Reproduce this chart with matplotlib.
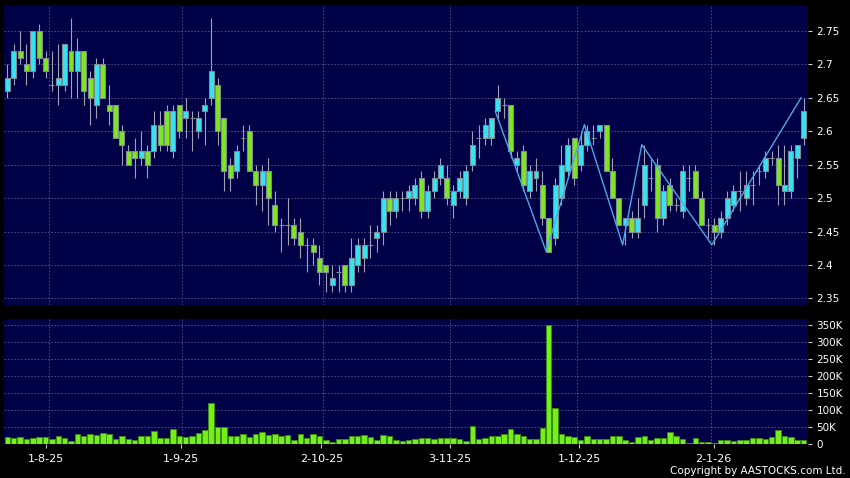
import matplotlib
matplotlib.use("Agg")
import matplotlib.pyplot as plt
import numpy as np

# ______________________________________________________________________________
#
# data (one entry per trading day)
# ______________________________________________________________________________
opens = [2.66, 2.68, 2.72, 2.70, 2.69, 2.75, 2.71, 2.67, 2.67, 2.67,
         2.72, 2.69, 2.72, 2.68, 2.64, 2.70, 2.64, 2.64, 2.60, 2.57,
         2.57, 2.56, 2.57, 2.57, 2.61, 2.63, 2.57, 2.64, 2.62, 2.62,
         2.60, 2.63, 2.65, 2.67, 2.62, 2.55, 2.54, 2.59, 2.60, 2.54,
         2.52, 2.54, 2.49, 2.46, 2.46, 2.46, 2.45, 2.43, 2.43, 2.41,
         2.40, 2.37, 2.39, 2.40, 2.37, 2.40, 2.41, 2.43, 2.44, 2.45,
         2.50, 2.48, 2.50, 2.50, 2.50, 2.53, 2.48, 2.51, 2.53, 2.53,
         2.49, 2.51, 2.50, 2.55, 2.59, 2.59, 2.59, 2.63, 2.64, 2.64,
         2.55, 2.57, 2.51, 2.53, 2.52, 2.47, 2.44, 2.50, 2.54, 2.59,
         2.55, 2.58, 2.59, 2.60, 2.61, 2.54, 2.50, 2.46, 2.47, 2.45,
         2.49, 2.53, 2.55, 2.47, 2.52, 2.49, 2.48, 2.53, 2.54, 2.50,
         2.46, 2.46, 2.45, 2.47, 2.49, 2.51, 2.50, 2.52, 2.54, 2.54,
         2.56, 2.56, 2.51, 2.51, 2.56, 2.59]
highs = [2.70, 2.73, 2.75, 2.73, 2.75, 2.76, 2.72, 2.72, 2.73, 2.73,
         2.77, 2.74, 2.72, 2.69, 2.71, 2.71, 2.67, 2.64, 2.61, 2.58,
         2.59, 2.60, 2.58, 2.63, 2.63, 2.64, 2.64, 2.64, 2.65, 2.63,
         2.63, 2.65, 2.77, 2.68, 2.62, 2.56, 2.58, 2.61, 2.61, 2.55,
         2.55, 2.56, 2.51, 2.47, 2.50, 2.47, 2.47, 2.44, 2.44, 2.43,
         2.40, 2.40, 2.40, 2.40, 2.44, 2.44, 2.44, 2.46, 2.46, 2.51,
         2.51, 2.51, 2.51, 2.52, 2.53, 2.54, 2.52, 2.54, 2.56, 2.55,
         2.52, 2.54, 2.55, 2.60, 2.61, 2.62, 2.62, 2.67, 2.65, 2.64,
         2.57, 2.58, 2.55, 2.56, 2.54, 2.47, 2.53, 2.58, 2.59, 2.59,
         2.60, 2.61, 2.61, 2.61, 2.61, 2.56, 2.50, 2.47, 2.48, 2.50,
         2.58, 2.56, 2.56, 2.52, 2.53, 2.50, 2.55, 2.55, 2.55, 2.51,
         2.47, 2.47, 2.48, 2.51, 2.52, 2.54, 2.54, 2.54, 2.55, 2.57,
         2.57, 2.58, 2.58, 2.58, 2.58, 2.65]
lows = [2.65, 2.67, 2.70, 2.67, 2.68, 2.70, 2.68, 2.66, 2.64, 2.66,
        2.65, 2.65, 2.64, 2.61, 2.62, 2.65, 2.61, 2.59, 2.55, 2.55,
        2.53, 2.55, 2.53, 2.56, 2.57, 2.57, 2.56, 2.59, 2.59, 2.57,
        2.59, 2.58, 2.64, 2.58, 2.51, 2.51, 2.53, 2.57, 2.54, 2.49,
        2.48, 2.46, 2.45, 2.42, 2.43, 2.43, 2.41, 2.39, 2.40, 2.37,
        2.36, 2.36, 2.36, 2.36, 2.36, 2.39, 2.39, 2.41, 2.42, 2.43,
        2.46, 2.47, 2.48, 2.48, 2.49, 2.47, 2.47, 2.50, 2.52, 2.49,
        2.47, 2.50, 2.49, 2.54, 2.56, 2.58, 2.58, 2.62, 2.62, 2.56,
        2.54, 2.51, 2.50, 2.51, 2.46, 2.42, 2.43, 2.49, 2.53, 2.52,
        2.54, 2.57, 2.58, 2.59, 2.54, 2.50, 2.46, 2.43, 2.44, 2.44,
        2.47, 2.51, 2.45, 2.46, 2.48, 2.48, 2.47, 2.51, 2.50, 2.46,
        2.44, 2.43, 2.44, 2.46, 2.48, 2.48, 2.49, 2.49, 2.52, 2.53,
        2.55, 2.49, 2.49, 2.50, 2.53, 2.58]
closes = [2.68, 2.72, 2.71, 2.69, 2.75, 2.71, 2.69, 2.67, 2.68, 2.73,
          2.69, 2.72, 2.66, 2.65, 2.70, 2.65, 2.63, 2.59, 2.58, 2.55,
          2.56, 2.57, 2.55, 2.61, 2.58, 2.58, 2.63, 2.60, 2.63, 2.62,
          2.62, 2.64, 2.69, 2.60, 2.54, 2.53, 2.57, 2.59, 2.54, 2.52,
          2.54, 2.50, 2.46, 2.46, 2.46, 2.44, 2.43, 2.43, 2.42, 2.39,
          2.39, 2.38, 2.39, 2.37, 2.41, 2.43, 2.43, 2.43, 2.45, 2.50,
          2.48, 2.50, 2.50, 2.51, 2.52, 2.48, 2.51, 2.53, 2.55, 2.50,
          2.51, 2.53, 2.54, 2.58, 2.59, 2.61, 2.62, 2.65, 2.64, 2.57,
          2.56, 2.52, 2.54, 2.54, 2.47, 2.42, 2.52, 2.55, 2.58, 2.53,
          2.58, 2.60, 2.59, 2.61, 2.54, 2.50, 2.46, 2.47, 2.45, 2.47,
          2.55, 2.53, 2.47, 2.51, 2.49, 2.49, 2.54, 2.53, 2.50, 2.46,
          2.46, 2.45, 2.47, 2.50, 2.51, 2.51, 2.52, 2.52, 2.54, 2.56,
          2.56, 2.52, 2.52, 2.57, 2.58, 2.63]
# volume in thousands of shares
volumes_k = [22, 17, 20, 16, 18, 20, 20, 15, 25, 19,
             10, 30, 23, 29, 27, 33, 28, 14, 24, 16,
             11, 23, 25, 39, 19, 17, 45, 24, 21, 25,
             32, 40, 120, 51, 51, 24, 23, 28, 20, 30,
             35, 27, 28, 23, 27, 12, 30, 18, 30, 23,
             11, 6, 14, 14, 25, 25, 26, 22, 11, 27,
             23, 12, 9, 12, 14, 19, 17, 15, 17, 17,
             17, 14, 10, 52, 15, 17, 23, 23, 28, 45,
             28, 24, 16, 16, 48, 350, 105, 30, 23, 20,
             12, 23, 16, 16, 14, 23, 23, 13, 6, 21,
             25, 12, 19, 19, 34, 25, 14, 4, 18, 7,
             7, 4, 12, 12, 10, 13, 13, 19, 17, 14,
             22, 42, 23, 20, 13, 12]

# zigzag swing points (day index, price)
zigzag_day = [77, 85, 91, 97, 100, 111, 125]
zigzag_price = [2.63, 2.42, 2.61, 2.43, 2.58, 2.43, 2.65]

date_labels = ["1-8-25", "1-9-25", "2-10-25", "3-11-25", "1-12-25", "2-1-26"]
date_ticks = [6.0, 27.2, 49.3, 69.5, 89.8, 110.9]
date_grid = [6.5, 27.5, 49.5, 69.5, 89.5, 110.5]

price_ticks = [2.35, 2.4, 2.45, 2.5, 2.55, 2.6, 2.65, 2.7, 2.75]
price_labels = ["2.35", "2.4", "2.45", "2.5", "2.55", "2.6", "2.65", "2.7", "2.75"]
vol_ticks_k = [0, 50, 100, 150, 200, 250, 300, 350]
vol_labels = ["0", "50K", "100K", "150K", "200K", "250K", "300K", "350K"]

# ______________________________________________________________________________
#
# style
# ______________________________________________________________________________
FIG_BG = "#000000"
PANEL_BG = "#000046"
GRID_COLOR = "#54548e"
UP_COLOR = "#33e5f2"
DOWN_COLOR = "#7ee81e"
EDGE_COLOR = "#7e8c94"
WICK_COLOR = "#a2a2b4"
VOL_COLOR = "#72f01a"
VOL_EDGE = "#3f8a12"
ZIGZAG_COLOR = "#4aa8e6"
TEXT_COLOR = "#ffffff"


def style_panel(ax):
    ax.set_facecolor(PANEL_BG)
    for side in ax.spines.values():
        side.set_visible(False)
    ax.yaxis.tick_right()
    ax.tick_params(axis="y", colors="#c8c8c8", labelcolor=TEXT_COLOR,
                   length=3, width=0.8, pad=3, labelsize=7.5, direction="out")
    ax.grid(axis="y", color=GRID_COLOR, linestyle=(0, (2, 2)), linewidth=0.6)
    for g in date_grid:
        ax.axvline(g, color=GRID_COLOR, linestyle=(0, (2, 2)), linewidth=0.6, zorder=0.5)
    ax.set_axisbelow(True)


# ______________________________________________________________________________
#
# figure
# ______________________________________________________________________________
fig = plt.figure(figsize=(8.5, 4.78), dpi=100, facecolor=FIG_BG)
ax_p = fig.add_axes([4 / 850, 173 / 478, 804 / 850, 300 / 478])
ax_v = fig.add_axes([4 / 850, 34 / 478, 804 / 850, 125 / 478])

days = np.arange(len(opens))
o = np.array(opens)
c = np.array(closes)
colors = [UP_COLOR if cc > oo else DOWN_COLOR for oo, cc in zip(o, c)]

# price panel
style_panel(ax_p)
ax_p.vlines(days, lows, highs, color=WICK_COLOR, linewidth=0.8, zorder=2)
ax_p.bar(days, np.abs(c - o), bottom=np.minimum(o, c), width=0.78,
         color=colors, edgecolor=EDGE_COLOR, linewidth=0.8, zorder=3)
ax_p.plot(np.array(zigzag_day) - 0.4, zigzag_price, color=ZIGZAG_COLOR,
          linewidth=1.0, zorder=4)
ax_p.set_xlim(-0.52, 125.7)
ax_p.set_ylim(2.34, 2.789)
ax_p.set_yticks(price_ticks)
ax_p.set_yticklabels(price_labels)
ax_p.set_xticks([])

# volume panel
style_panel(ax_v)
ax_v.bar(days, np.array(volumes_k) * 1000, width=0.86, color=VOL_COLOR,
         edgecolor=VOL_EDGE, linewidth=0.6, zorder=3)
ax_v.set_xlim(-0.52, 125.7)
ax_v.set_ylim(0, 368000)
ax_v.set_yticks(np.array(vol_ticks_k) * 1000)
ax_v.set_yticklabels(vol_labels)
ax_v.set_xticks(date_ticks)
ax_v.set_xticklabels(date_labels)
ax_v.tick_params(axis="x", colors="#c8c8c8", labelcolor=TEXT_COLOR,
                 length=3, width=0.8, pad=4, labelsize=8)

fig.text(846 / 850, 1 - 471 / 478, "Copyright by AASTOCKS.com Ltd.",
         color=TEXT_COLOR, fontsize=7.5, ha="right", va="center")

fig.savefig("out.png", dpi=100, facecolor=FIG_BG)
